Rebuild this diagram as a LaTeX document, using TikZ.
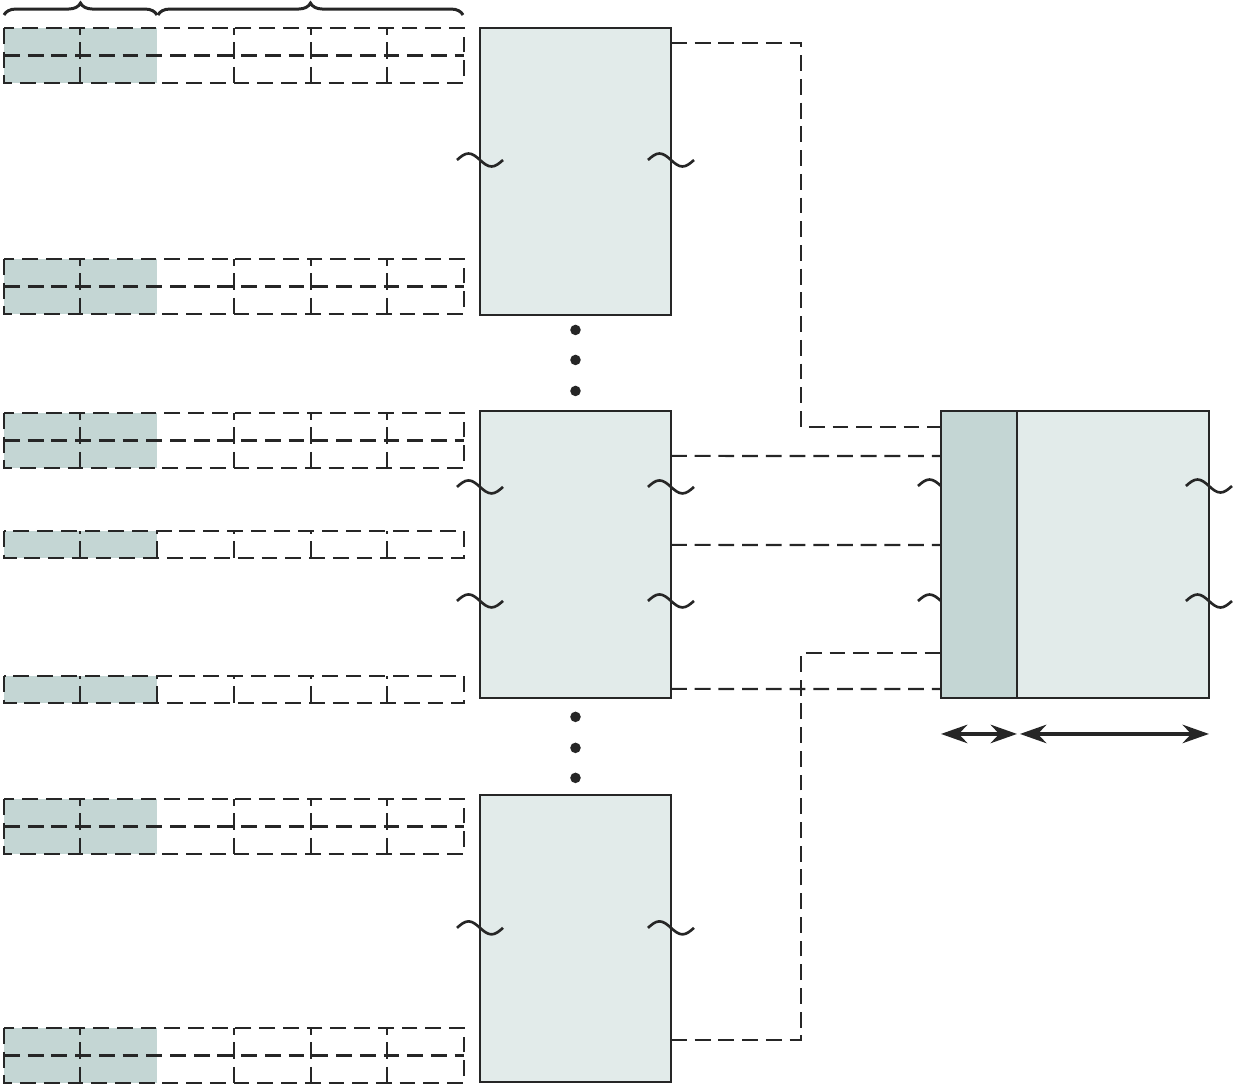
\documentclass[tikz,border=0pt]{standalone}
\usetikzlibrary{positioning,calc,arrows.meta,decorations.pathreplacing}

\definecolor{paleteal}{HTML}{E2EBEA}
\definecolor{greyteal}{HTML}{C4D6D4}
\definecolor{inkline}{HTML}{262626}

% register strips, top edge at #1
\newcommand{\tworowstrip}[1]{
    \fill[greyteal] (4,#1) rectangle (157,#1+55);
    \draw[dashline] (4,#1) rectangle (464,#1+55);
    \draw[dashline] (4,#1+27.5) -- (464,#1+27.5);
    \foreach \cx in {80,234,311,387}
        \draw[dashline,tallcut] (\cx,#1) -- (\cx,#1+55);
}
\newcommand{\onerowstrip}[1]{
    \fill[greyteal] (4,#1) rectangle (157,#1+27);
    \draw[dashline] (4,#1) rectangle (464,#1+27);
    \foreach \cx in {80,157,234,311,387}
        \draw[dashline,shortcut] (\cx,#1) -- (\cx,#1+27);
}

\begin{document}
\begin{tikzpicture}[x=0.02cm,y=-0.02cm,line width=1.1pt,
    dashline/.style={draw=inkline,line width=1.2pt,dash pattern=on 9pt off 4.5pt},
    tallcut/.style={dash pattern=on 4pt off 4pt on 9.6pt off 4.5pt on 9.1pt},
    shortcut/.style={dash pattern=on 1.7pt off 4pt on 9.6pt},
    regbox/.style={draw=inkline,fill=paleteal,inner sep=0pt,outer sep=0pt,
        minimum width=3.82cm,minimum height=5.74cm},
    breakmark/.pic={\draw[inkline,line width=1.5pt] (-23,0) sin (-11.5,-6.5) cos (0,0) sin (11.5,6.5) cos (23,0);},
    halfbreak/.pic={\draw[inkline,line width=1.5pt] (-23,0) sin (-11.5,-6.5) cos (0,0);},
    spanarrow/.style={inkline,line width=2pt,
        {Stealth[length=15pt,width=10.5pt]}-{Stealth[length=15pt,width=10.5pt]}}]
    \useasboundingbox (0,0) rectangle (1236,1088);

    % braces over the first strip
    \draw[inkline,line width=1.7pt,decorate,decoration={brace,amplitude=6.8pt}] (4,15) -- (157,15);
    \draw[inkline,line width=1.7pt,decorate,decoration={brace,amplitude=6.8pt}] (158,15) -- (463,15);

    % strips
    \foreach \ty in {28,259,413,799,1028} {\tworowstrip{\ty}}
    \foreach \ty in {531,676} {\onerowstrip{\ty}}

    % connectors
    \coordinate (upbend) at (801,427);
    \coordinate (lowbend) at (801,653);

    % register boxes
    \node[regbox,anchor=north west] (boxa) at (480,28) {};
    \node[regbox,below=1.92cm of boxa] (boxb) {};
    \node[regbox,below=1.94cm of boxb] (boxc) {};

    \foreach \dy in {15,45,76} \fill[inkline] ($(boxa.south)+(0,\dy)$) circle (3pt);
    \foreach \dy in {19,50,80} \fill[inkline] ($(boxb.south)+(0,\dy)$) circle (3pt);

    % combined block
    \node[regbox,fill=greyteal,minimum width=1.52cm,anchor=north west] (tlb) at (941,411) {};
    \node[regbox,minimum width=3.84cm,right=0pt of tlb] (trb) {};

    \draw[dashline] ($(boxa.north east)+(0,15)$) -| (upbend) -- (upbend -| tlb.west);
    \foreach \dy in {45,134,278}
        \draw[dashline] ($(boxb.north east)+(0,\dy)$) -- ($(tlb.north west)+(0,\dy)$);
    \draw[dashline] ($(boxc.north east)+(0,245)$) -| (lowbend) -- (lowbend -| tlb.west);

    % break marks
    \foreach \bx/\dy in {boxa/132,boxb/76,boxb/190,boxc/133} {
        \pic at ($(\bx.north west)+(0,\dy)$) {breakmark};
        \pic at ($(\bx.north east)+(0,\dy)$) {breakmark};
    }
    \foreach \dy in {75,190} {
        \pic at ($(tlb.north west)+(0,\dy)$) {halfbreak};
        \pic at ($(trb.north east)+(0,\dy)$) {breakmark};
    }

    \draw[spanarrow] ($(tlb.south west)+(0,36)$) -- ($(tlb.south east)+(0,36)$);
    \draw[spanarrow] ($(trb.south west)+(3,36)$) -- ($(trb.south east)+(0,36)$);
\end{tikzpicture}
\end{document}
